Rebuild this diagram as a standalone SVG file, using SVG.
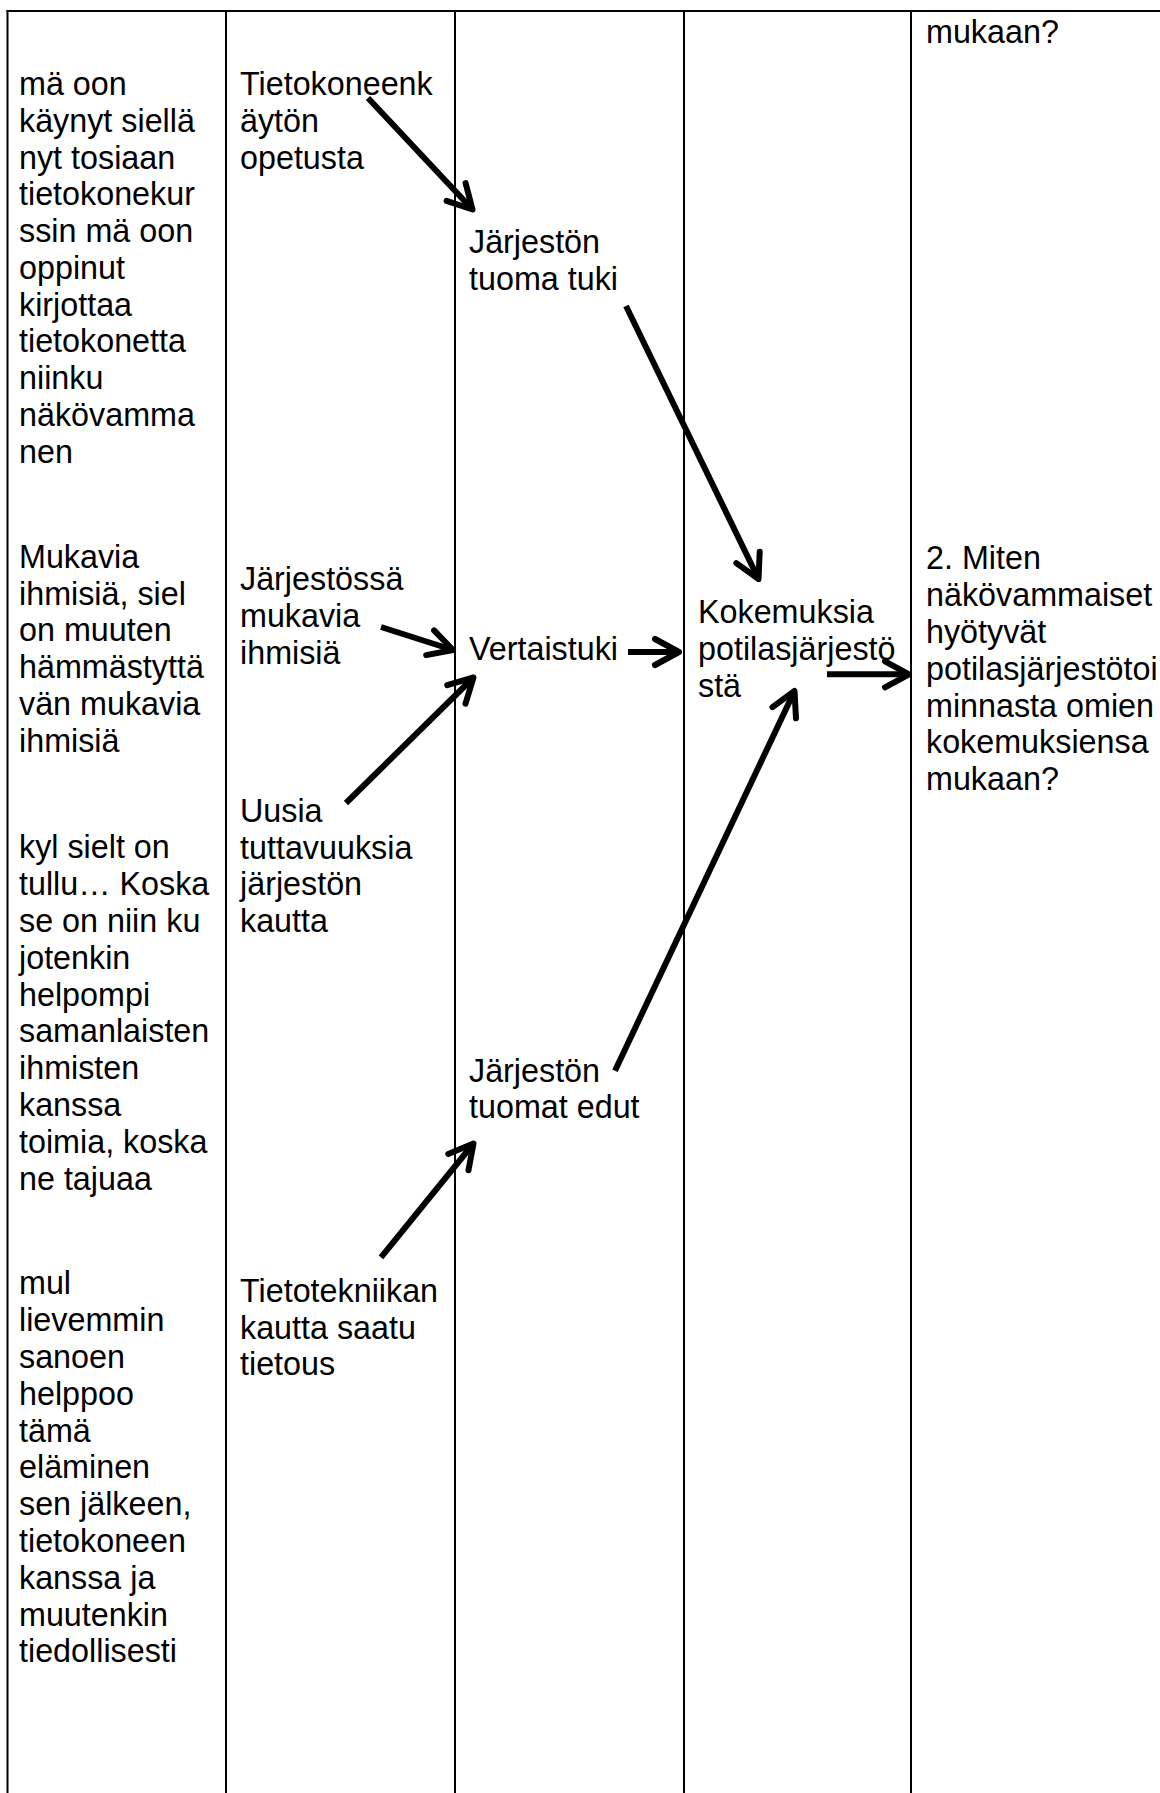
<svg xmlns="http://www.w3.org/2000/svg" width="1160" height="1793" viewBox="0 0 1160 1793">
  <style>
    .grid line { stroke: #000; stroke-width: 2; }
    text { font-family: "Liberation Sans", Arial, sans-serif; font-size: 32.3px; fill: #000; }
    .conn { stroke: #000; stroke-width: 6; fill: none; marker-end: url(#head); }
  </style>
  <defs>
    <marker id="head" markerUnits="userSpaceOnUse" markerWidth="40" markerHeight="40" refX="0" refY="0" viewBox="-30 -20 40 40" orient="auto" overflow="visible">
      <path d="M -24,-13 L 0,0 L -24,13" fill="none" stroke="#000" stroke-width="6" stroke-linejoin="round" stroke-linecap="round"/>
    </marker>
  </defs>
  <rect width="1160" height="1793" fill="#fff"/>

  <!-- table rules -->
  <g class="grid">
    <line x1="6.5" y1="11" x2="1160" y2="11"/>
    <line x1="7.5" y1="10" x2="7.5" y2="1793"/>
    <line x1="226" y1="10" x2="226" y2="1793"/>
    <line x1="455" y1="10" x2="455" y2="1793"/>
    <line x1="684" y1="10" x2="684" y2="1793"/>
    <line x1="911" y1="10" x2="911" y2="1793"/>
  </g>

  <!-- column 1: quotes -->
  <g id="quote-1">
    <text x="19" y="95">mä oon</text>
    <text x="19" y="131.8">käynyt siellä</text>
    <text x="19" y="168.5">nyt tosiaan</text>
    <text x="19" y="205.3">tietokonekur</text>
    <text x="19" y="242.1">ssin mä oon</text>
    <text x="19" y="278.9">oppinut</text>
    <text x="19" y="315.6">kirjottaa</text>
    <text x="19" y="352.4">tietokonetta</text>
    <text x="19" y="389.2">niinku</text>
    <text x="19" y="425.9">näkövamma</text>
    <text x="19" y="462.7">nen</text>
  </g>
  <g id="quote-2">
    <text x="19" y="567.7">Mukavia</text>
    <text x="19" y="604.5">ihmisiä, siel</text>
    <text x="19" y="641.3">on muuten</text>
    <text x="19" y="678.1">hämmästyttä</text>
    <text x="19" y="714.9">vän mukavia</text>
    <text x="19" y="751.7">ihmisiä</text>
  </g>
  <g id="quote-3">
    <text x="19" y="858.3">kyl sielt on</text>
    <text x="19" y="895.1">tullu… Koska</text>
    <text x="19" y="931.9">se on niin ku</text>
    <text x="19" y="968.7">jotenkin</text>
    <text x="19" y="1005.5">helpompi</text>
    <text x="19" y="1042.3">samanlaisten</text>
    <text x="19" y="1079.1">ihmisten</text>
    <text x="19" y="1115.9">kanssa</text>
    <text x="19" y="1152.7">toimia, koska</text>
    <text x="19" y="1189.5">ne tajuaa</text>
  </g>
  <g id="quote-4">
    <text x="19" y="1294.3">mul</text>
    <text x="19" y="1331.1">lievemmin</text>
    <text x="19" y="1367.9">sanoen</text>
    <text x="19" y="1404.7">helppoo</text>
    <text x="19" y="1441.5">tämä</text>
    <text x="19" y="1478.3">eläminen</text>
    <text x="19" y="1515.1">sen jälkeen,</text>
    <text x="19" y="1551.9">tietokoneen</text>
    <text x="19" y="1588.7">kanssa ja</text>
    <text x="19" y="1625.5">muutenkin</text>
    <text x="19" y="1662.3">tiedollisesti</text>
  </g>

  <!-- column 2: simplified expressions -->
  <g id="tietokoneenkayton-opetusta">
    <text x="240" y="95">Tietokoneenk</text>
    <text x="240" y="131.8">äytön</text>
    <text x="240" y="168.5">opetusta</text>
  </g>
  <g id="jarjestossa-mukavia-ihmisia">
    <text x="240" y="590">Järjestössä</text>
    <text x="240" y="626.8">mukavia</text>
    <text x="240" y="663.6">ihmisiä</text>
  </g>
  <g id="uusia-tuttavuuksia">
    <text x="240" y="821.7">Uusia</text>
    <text x="240" y="858.5">tuttavuuksia</text>
    <text x="240" y="895.3">järjestön</text>
    <text x="240" y="932.1">kautta</text>
  </g>
  <g id="tietotekniikan-kautta">
    <text x="240" y="1301.7">Tietotekniikan</text>
    <text x="240" y="1338.5">kautta saatu</text>
    <text x="240" y="1375.3">tietous</text>
  </g>

  <!-- column 3: subcategories -->
  <g id="jarjeston-tuoma-tuki">
    <text x="469" y="253">Järjestön</text>
    <text x="469" y="289.8">tuoma tuki</text>
  </g>
  <g id="vertaistuki">
    <text x="469" y="660">Vertaistuki</text>
  </g>
  <g id="jarjeston-tuomat-edut">
    <text x="469" y="1081.5">Järjestön</text>
    <text x="469" y="1118.3">tuomat edut</text>
  </g>

  <!-- column 4: main category -->
  <g id="kokemuksia">
    <text x="698" y="623">Kokemuksia</text>
    <text x="698" y="659.8">potilasjärjestö</text>
    <text x="698" y="696.6">stä</text>
  </g>

  <!-- column 5: research question -->
  <g id="question-tail">
    <text x="926" y="43">mukaan?</text>
  </g>
  <g id="question-2">
    <text x="926" y="569.3">2. Miten</text>
    <text x="926" y="606.1">näkövammaiset</text>
    <text x="926" y="642.9">hyötyvät</text>
    <text x="926" y="679.7">potilasjärjestötoi</text>
    <text x="926" y="716.5">minnasta omien</text>
    <text x="926" y="753.3">kokemuksiensa</text>
    <text x="926" y="790.1">mukaan?</text>
  </g>

  <!-- connectors -->
  <g id="connectors">
    <line class="conn" x1="368" y1="98" x2="472.5" y2="209.5"/>
    <line class="conn" x1="626" y1="306" x2="758.5" y2="579"/>
    <line class="conn" x1="381" y1="627" x2="453" y2="650"/>
    <line class="conn" x1="346" y1="803" x2="473.5" y2="677.5"/>
    <line class="conn" x1="628" y1="652" x2="679" y2="652"/>
    <line class="conn" x1="827" y1="674.3" x2="909" y2="674.3"/>
    <line class="conn" x1="615" y1="1070.7" x2="794.5" y2="691"/>
    <line class="conn" x1="381" y1="1257.3" x2="473.5" y2="1143.5"/>
  </g>
</svg>
